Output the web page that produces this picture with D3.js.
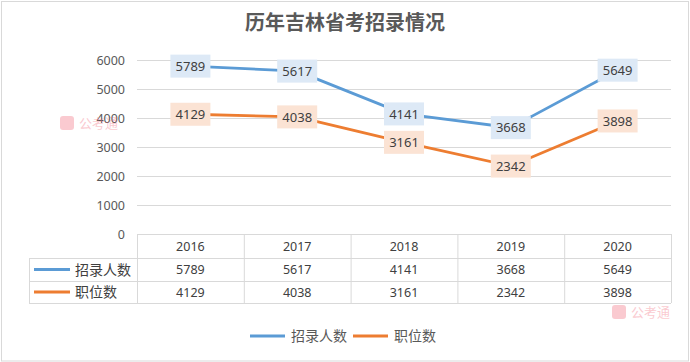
<!DOCTYPE html>
<html>
<head>
<meta charset="utf-8">
<script src="https://cdn.jsdelivr.net/npm/d3@7"></script>
<style>
  body { margin: 0; background: #fff; }
  text { font-family: "Noto Sans CJK SC", "Noto Sans", sans-serif; }
</style>
</head>
<body>
<svg id="chart" width="690" height="362"></svg>
<script>
// data
const years = ["2016", "2017", "2018", "2019", "2020"];
const seriesNames = ["招录人数", "职位数"];
const recruits = [5789, 5617, 4141, 3668, 5649];
const positions = [4129, 4038, 3161, 2342, 3898];
const yTicks = [0, 1000, 2000, 3000, 4000, 5000, 6000];

const colors = ["#5b9bd5", "#ed7d31"];
const boxFills = ["#dde9f6", "#fbe3d4"];
const series = [recruits, positions];

const margin = {left: 137, right: 19, top: 60};
const W = 690, H = 362;
const plotBottom = 234;

const svg = d3.select("#chart");

// outer border
svg.append("rect")
  .attr("x", 1.5).attr("y", 1.5)
  .attr("width", W - 3).attr("height", H - 2.5)
  .attr("fill", "#fff")
  .attr("stroke", "#d9d9d9");

// title
svg.append("text")
  .attr("x", 345).attr("y", 30)
  .attr("text-anchor", "middle")
  .style("font-size", "20px")
  .style("font-weight", "bold")
  .style("fill", "#595959")
  .text("历年吉林省考招录情况");

// scales
const x = d3.scaleBand()
  .domain(years)
  .range([margin.left, W - margin.right]);

const y = d3.scaleLinear()
  .domain([0, 6000])
  .range([plotBottom, margin.top]);

// gridlines
svg.append("g")
  .selectAll("line")
  .data(yTicks.filter(d => d > 0))
  .enter().append("line")
  .attr("x1", margin.left).attr("x2", W - margin.right)
  .attr("y1", d => y(d) + 0.5).attr("y2", d => y(d) + 0.5)
  .attr("stroke", "#d9d9d9");

// y axis labels
const yAxis = svg.append("g")
  .attr("transform", "translate(" + (margin.left - 12) + ",0)")
  .call(d3.axisLeft(y).tickValues(yTicks).tickSize(0).tickPadding(0).tickFormat(d3.format("d")));
yAxis.select(".domain").remove();
yAxis.selectAll("text")
  .style("font-size", "12.5px")
  .style("fill", "#595959")
  .style("font-family", "\"Noto Sans\", sans-serif");

// watermark
function watermark(px, py) {
  const g = svg.append("g").attr("opacity", 0.35);
  g.append("rect")
    .attr("x", px).attr("y", py - 8)
    .attr("width", 14).attr("height", 14).attr("rx", 3)
    .attr("fill", "#f26a7a");
  g.append("text")
    .attr("x", px + 19).attr("y", py + 4)
    .style("font-size", "13px")
    .style("fill", "#f26a7a")
    .text("公考通");
}
watermark(60, 124);
watermark(612, 313);

// lines
const line = d3.line()
  .x((d, i) => x(years[i]) + x.bandwidth() / 2)
  .y(d => y(d));

series.forEach((s, k) => {
  svg.append("path")
    .datum(s)
    .attr("fill", "none")
    .attr("stroke", colors[k])
    .attr("stroke-width", 2.8)
    .attr("stroke-linejoin", "round")
    .attr("d", line);
});

// data labels
series.forEach((s, k) => {
  const g = svg.append("g").selectAll("g")
    .data(s)
    .enter().append("g")
    .attr("transform", (d, i) => "translate(" + (x(years[i]) + x.bandwidth() / 2) + "," + y(d) + ")");
  g.append("rect")
    .attr("x", -20).attr("y", -11.5)
    .attr("width", 40).attr("height", 23)
    .attr("fill", boxFills[k]);
  g.append("text")
    .attr("text-anchor", "middle")
    .attr("dy", "0.36em")
    .style("font-size", "13px")
    .style("fill", "#404040")
    .style("font-family", "\"Noto Sans\", sans-serif")
    .text(d => d);
});

// data table
const rowTop = [234, 258, 281, 303];
const tableLeft = 29;
const gridColor = "#d9d9d9";
const tg = svg.append("g");

// horizontal lines
tg.append("line")
  .attr("x1", margin.left).attr("x2", W - margin.right)
  .attr("y1", rowTop[0] + 0.5).attr("y2", rowTop[0] + 0.5)
  .attr("stroke", gridColor);
rowTop.slice(1).forEach(r => {
  tg.append("line")
    .attr("x1", tableLeft).attr("x2", W - margin.right)
    .attr("y1", r + 0.5).attr("y2", r + 0.5)
    .attr("stroke", gridColor);
});
// vertical lines
tg.append("line")
  .attr("x1", tableLeft + 0.5).attr("x2", tableLeft + 0.5)
  .attr("y1", rowTop[1]).attr("y2", rowTop[3])
  .attr("stroke", gridColor);
years.concat(["end"]).forEach((yr, i) => {
  const xp = i < years.length ? x(yr) : W - margin.right;
  tg.append("line")
    .attr("x1", xp + 0.5).attr("x2", xp + 0.5)
    .attr("y1", rowTop[0]).attr("y2", rowTop[3])
    .attr("stroke", gridColor);
});

// header row
tg.selectAll(".hdr")
  .data(years)
  .enter().append("text")
  .attr("x", d => x(d) + x.bandwidth() / 2)
  .attr("y", (rowTop[0] + rowTop[1]) / 2)
  .attr("dy", "0.36em")
  .attr("text-anchor", "middle")
  .style("font-size", "12.5px")
  .style("fill", "#404040")
  .style("font-family", "\"Noto Sans\", sans-serif")
  .text(d => d);

// series rows
series.forEach((s, k) => {
  const cy = (rowTop[k + 1] + rowTop[k + 2]) / 2;
  tg.append("line")
    .attr("x1", 34).attr("x2", 70)
    .attr("y1", cy).attr("y2", cy)
    .attr("stroke", colors[k])
    .attr("stroke-width", 3);
  tg.append("text")
    .attr("x", 75).attr("y", cy)
    .attr("dy", "0.36em")
    .style("font-size", "14px")
    .style("fill", "#404040")
    .text(seriesNames[k]);
  tg.selectAll(".v" + k)
    .data(s)
    .enter().append("text")
    .attr("x", (d, i) => x(years[i]) + x.bandwidth() / 2)
    .attr("y", cy)
    .attr("dy", "0.36em")
    .attr("text-anchor", "middle")
    .style("font-size", "12.5px")
    .style("fill", "#404040")
    .style("font-family", "\"Noto Sans\", sans-serif")
    .text(d => d);
});

// bottom legend
const legendX = [250, 353];
seriesNames.forEach((name, k) => {
  const lg = svg.append("g").attr("transform", "translate(" + legendX[k] + ",336)");
  lg.append("line")
    .attr("x1", 0).attr("x2", 35)
    .attr("stroke", colors[k])
    .attr("stroke-width", 3);
  lg.append("text")
    .attr("x", 41)
    .attr("dy", "0.36em")
    .style("font-size", "14px")
    .style("fill", "#595959")
    .text(name);
});
</script>
</body>
</html>
